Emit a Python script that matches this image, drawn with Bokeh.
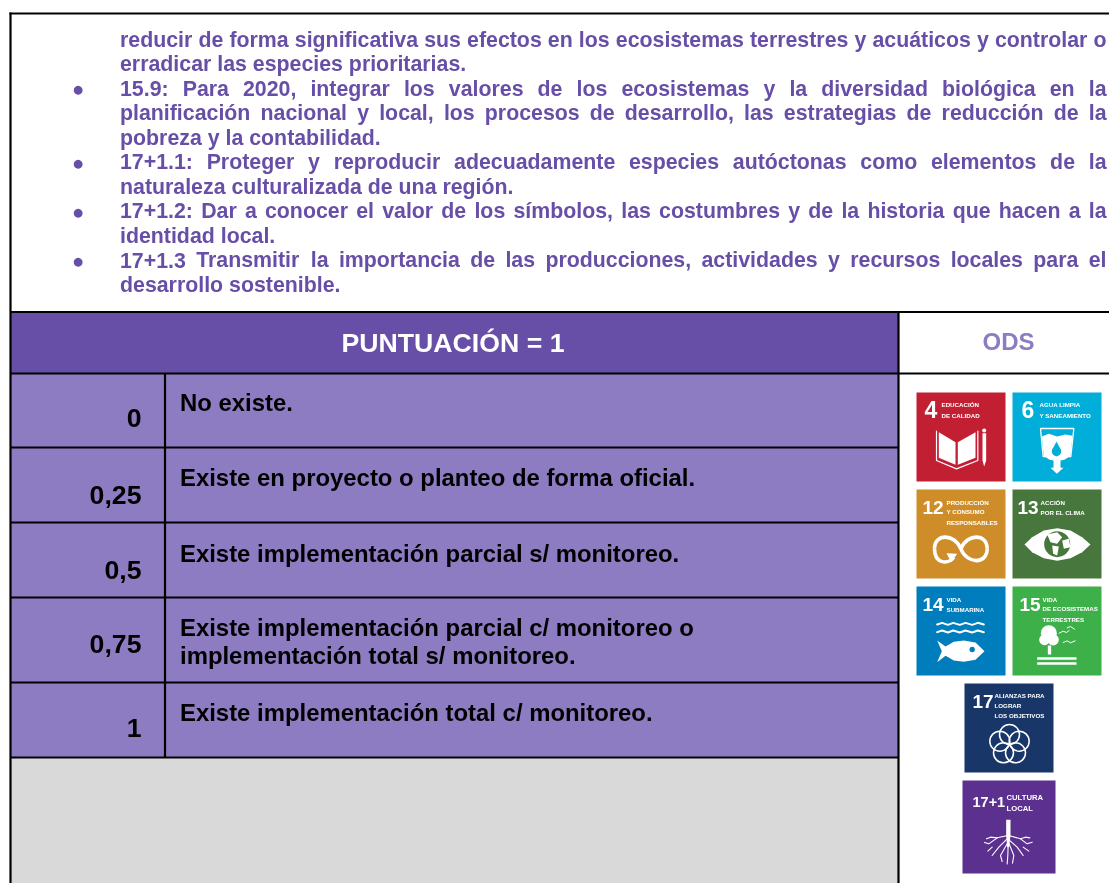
from bokeh.plotting import figure
from bokeh.embed import file_html
from bokeh.resources import INLINE
from bokeh.core.properties import value
from bokeh.models import Range1d

# ---- content ----
BODY_LINES = [
    ("reducir de forma significativa sus efectos en los ecosistemas terrestres y acuáticos y controlar o", True, False),
    ("erradicar las especies prioritarias.", False, False),
    ("15.9: Para 2020, integrar los valores de los ecosistemas y la diversidad biológica en la", True, True),
    ("planificación nacional y local, los procesos de desarrollo, las estrategias de reducción de la", True, False),
    ("pobreza y la contabilidad.", False, False),
    ("17+1.1: Proteger y reproducir adecuadamente especies autóctonas como elementos de la", True, True),
    ("naturaleza culturalizada de una región.", False, False),
    ("17+1.2: Dar a conocer el valor de los símbolos, las costumbres y de la historia que hacen a la", True, True),
    ("identidad local.", False, False),
    ("17+1.3 Transmitir la importancia de las producciones, actividades y recursos locales para el", True, True),
    ("desarrollo sostenible.", False, False),
]
HEADER = "PUNTUACIÓN = 1"
ODS_TITLE = "ODS"
SCORES = ["0", "0,25", "0,5", "0,75", "1"]
DESCRIPTIONS = [
    ["No existe."],
    ["Existe en proyecto o planteo de forma oficial."],
    ["Existe implementación parcial s/ monitoreo."],
    ["Existe implementación parcial c/ monitoreo o", "implementación total s/ monitoreo."],
    ["Existe implementación total c/ monitoreo."],
]
ODS_NUMBERS = ["4", "6", "12", "13", "14", "15", "17", "17+1"]
ODS_LABELS = [
    ["EDUCACIÓN", "DE CALIDAD"],
    ["AGUA LIMPIA", "Y SANEAMIENTO"],
    ["PRODUCCIÓN", "Y CONSUMO", "RESPONSABLES"],
    ["ACCIÓN", "POR EL CLIMA"],
    ["VIDA", "SUBMARINA"],
    ["VIDA", "DE ECOSISTEMAS", "TERRESTRES"],
    ["ALIANZAS PARA", "LOGRAR", "LOS OBJETIVOS"],
    ["CULTURA", "LOCAL"],
]

# ---- styles ----
DARK = "#674ea7"
LIGHT = "#8e7cc3"
GREY = "#d9d9d9"
FONT = value("Liberation Sans")
ODS_COLORS = ["#c31f33", "#00aed9", "#cf8d2a", "#48773e", "#007dbc", "#3eb049", "#183668", "#5b308f"]
# left, top, size of every tile
ODS_BOX = [(916, 392, 89), (1012, 392, 89), (916, 489, 89), (1012, 489, 89),
           (916, 586, 89), (1012, 586, 89), (964, 683, 89), (962, 780, 93)]
NUM_X = [8, 9, 6, 5, 6, 7, 8, 10]      # number offset inside tile
LAB_X = [25, 27, 30, 28, 30, 30, 30, 44]  # label offset inside tile
NUM_SIZE = [23, 23, 19, 19, 19, 19, 19, 14.5]
NUM_BASE = [25, 25, 25, 25, 25, 25, 25, 27]
LAB_BASE = [[14.7, 25.7], [14.7, 25.7], [15, 24.7, 35], [15, 25], [15.3, 25.7], [15.3, 24.7, 35], [14.3, 24, 34.7], [19.3, 31]]
LAB_SIZE = [6.2, 6.2, 6.2, 6.2, 6.2, 6.2, 6.2, 7.7]

WIDTHS = {" ": 278, "+": 584, ",": 278, "-": 333, ".": 278, "/": 278, ":": 333, "=": 584,
          "a": 556, "b": 611, "c": 556, "d": 611, "e": 556, "f": 333, "g": 611, "h": 611, "i": 278,
          "j": 278, "k": 556, "l": 278, "m": 889, "n": 611, "o": 611, "p": 611, "q": 611, "r": 389,
          "s": 556, "t": 333, "u": 611, "v": 556, "w": 778, "x": 556, "y": 556, "z": 500,
          "á": 556, "é": 556, "í": 278, "ó": 611, "ú": 611,
          "D": 722, "E": 667, "P": 667, "T": 611}
def tw(s, fs):
    return sum(556 if c.isdigit() else WIDTHS.get(c, 600) for c in s) * fs / 1000

W, H = 1109, 883
p = figure(width=W, height=H, x_range=Range1d(0, W), y_range=Range1d(H, 0), output_backend="svg",
           toolbar_location=None, min_border=0, outline_line_color=None, background_fill_color="white",
           border_fill_color="white")
p.axis.visible = False
p.grid.visible = False
p.styles = {"position": "fixed", "left": "0", "top": "0"}

def rect(x0, y0, x1, y1, c):
    p.quad(left=x0, right=x1, top=y0, bottom=y1, fill_color=c, line_color=None)
def txt(x, y, s, size, color, align="left", base="alphabetic", font=FONT, style="bold"):
    if base == "alphabetic":
        y = y - 0.36 * size   # renderer draws "alphabetic" text this far low
    p.text(x=[x], y=[y], text=[s], text_font=font, text_font_size=f"{size}px", text_font_style=style,
           text_color=color, text_align=align, text_baseline=base)

# ---- cell fills ----
ROW_Y = [373, 447, 522, 597, 682, 757]
rect(10, 312, 898, 373, DARK)
rect(10, 373, 898, 757, LIGHT)
rect(10, 757, 898, 883, GREY)

# ---- justified body text ----
LEFT, RIGHT, FS, PITCH, FIRST = 119.5, 1106, 21.33, 24.5, 47
for i, (line, just, bullet) in enumerate(BODY_LINES):
    y = FIRST + i * PITCH
    words = line.split(" ")
    natural = [tw(w, FS) for w in words]
    gap = (RIGHT - LEFT - sum(natural)) / (len(words) - 1) if just else tw(" ", FS)
    x = LEFT
    for w, n in zip(words, natural):
        txt(x, y, w, FS, DARK)
        x += n + gap
    if bullet:
        txt(77.5, y - 7.5, "●", 11.5, DARK, "center", "middle", value("DejaVu Sans"), "normal")

# ---- table texts ----
txt(452.5, 352, HEADER, 26.67, "white", "center")
txt(1008, 350, ODS_TITLE, 24, LIGHT, "center")
SCORE_BASE = [427, 504, 579, 653, 737]
DESC_BASE = [411, 486, 562, 636, 721]
for s, sb, lines, db in zip(SCORES, SCORE_BASE, DESCRIPTIONS, DESC_BASE):
    txt(141, sb, s, 26.67, "black", "right")
    for j, l in enumerate(lines):
        txt(179.5, db + j * 28, l, 23.9, "black")

# ---- borders ----
def seg(x0, y0, x1, y1, w=2.2):
    p.line([x0, x1], [y0, y1], line_color="black", line_width=w)
seg(9, 13, W, 13)
seg(10, 12, 10, H)
for y in [311.5] + ROW_Y:
    seg(10, y, W if y in (311.5, 373) else 898, y)
seg(164.5, 373, 164.5, 757)
seg(898, 311.5, 898, H)

# ---- SDG tiles ----
for i, (n, lab, col, (x, y, s)) in enumerate(zip(ODS_NUMBERS, ODS_LABELS, ODS_COLORS, ODS_BOX)):
    rect(x, y, x + s, y + s, col)
    txt(x + NUM_X[i], y + NUM_BASE[i], n, NUM_SIZE[i], "white")
    for l, b in zip(lab, LAB_BASE[i]):
        txt(x + LAB_X[i], y + b, l, LAB_SIZE[i], "white")

# pictograms: coordinates are page pixels derived from a 3x grid
def A(zx, zy, ox=900, oy=380):
    return ox + zx / 3, oy + zy / 3
def poly(points, c="white", ox=900, oy=380):
    pts = [A(a, b, ox, oy) for a, b in points]
    p.patch([q[0] for q in pts], [q[1] for q in pts], fill_color=c, line_color=None)
def path(points, w=1.5, c="white", ox=900, oy=380):
    pts = [A(a, b, ox, oy) for a, b in points]
    p.line([q[0] for q in pts], [q[1] for q in pts], line_color=c, line_width=w, line_cap="round", line_join="round")
def curve(a, b, c, d, w=3.6, col="white", ox=900, oy=380):
    (x0, y0), (cx0, cy0), (cx1, cy1), (x1, y1) = [A(q[0], q[1], ox, oy) for q in (a, b, c, d)]
    p.bezier(x0=[x0], y0=[y0], x1=[x1], y1=[y1], cx0=[cx0], cy0=[cy0], cx1=[cx1], cy1=[cy1], line_color=col, line_width=w)
def dot(zx, zy, r, c="white", ox=900, oy=380, lw=None):
    x, y = A(zx, zy, ox, oy)
    if lw:
        p.circle(x=[x], y=[y], radius=r / 3, fill_color=None, line_color=c, line_width=lw)
    else:
        p.circle(x=[x], y=[y], radius=r / 3, fill_color=c, line_color=None)

# 4 book & pencil
poly([(115, 155), (165, 185), (165, 253), (115, 232)])
poly([(172, 185), (225, 155), (225, 232), (172, 253)])
path([(108, 152), (108, 240), (168, 265), (232, 240), (232, 152)], 1.2)
poly([(246, 158), (257, 158), (257, 240), (251, 258), (246, 240)])
dot(251, 150, 6)
# 6 glass
path([(420, 144), (520, 144), (511, 228), (428, 228), (420, 144)], 1.3)
poly([(424, 168), (445, 160), (470, 168), (495, 162), (516, 166), (510, 226), (492, 238), (480, 240), (480, 262),
      (489, 262), (469, 280), (450, 262), (459, 262), (459, 240), (447, 238), (430, 226)])
poly([(468, 183), (482, 210), (468, 228), (454, 210)], "#00aed9")
dot(468, 213, 14, "#00aed9")
# 12 infinity
curve((181, 505), (200, 458), (260, 458), (260, 505))
curve((260, 505), (260, 552), (200, 552), (181, 505))
curve((181, 505), (162, 458), (102, 458), (102, 505))
curve((102, 505), (102, 552), (145, 552), (160, 530))
poly([(138, 518), (170, 520), (152, 545)])
# 13 eye & globe
poly([(372, 492), (395, 470), (430, 450), (470, 443), (510, 450), (545, 470), (570, 492), (545, 515), (510, 533),
      (470, 541), (430, 533), (395, 515)])
dot(470, 491, 39, "#48773e")
poly([(440, 462), (470, 455), (485, 470), (470, 490), (450, 485)])
poly([(455, 495), (475, 498), (470, 525), (458, 520)])
poly([(485, 480), (505, 475), (510, 500), (490, 505)])
# 14 waves & fish
O2 = dict(ox=900, oy=580)
path([(110, 132), (125, 127), (142, 133), (158, 127), (178, 133), (195, 127), (215, 133), (232, 127), (250, 132)], 2, **O2)
path([(110, 155), (125, 150), (142, 156), (158, 150), (178, 156), (195, 150), (215, 156), (232, 150), (250, 155)], 2, **O2)
poly([(110, 180), (135, 198), (160, 184), (190, 180), (225, 186), (252, 212), (225, 238), (190, 244), (160, 240),
      (135, 226), (110, 245), (124, 212)], **O2)
dot(215, 207, 8, "#007dbc", **O2)
# 15 tree & birds
dot(445, 158, 24, **O2)
dot(432, 178, 16, **O2)
dot(458, 178, 17, **O2)
poly([(442, 195), (452, 195), (452, 222), (442, 222)], **O2)
poly([(410, 230), (528, 230), (528, 238), (410, 238)], **O2)
poly([(410, 245), (528, 245), (528, 253), (410, 253)], **O2)
path([(476, 158), (488, 152), (498, 156), (506, 150)], 1, **O2)
path([(500, 142), (510, 138), (522, 146)], 1, **O2)
path([(488, 186), (500, 181), (510, 187), (524, 181)], 1, **O2)
# 17 rings
RING_CENTRES = [(327, 462), (356, 482), (345, 517), (309, 517), (298, 482)]
for cx, cy in RING_CENTRES:
    dot(cx, cy, 30, lw=1.5, **O2)
# 17+1 roots
poly([(317, 718), (330, 718), (330, 765), (326, 800), (320, 800), (317, 765)], **O2)
for b in [[(322, 765), (290, 772), (265, 790), (252, 786)], [(325, 765), (360, 775), (380, 790), (395, 785)],
          [(320, 775), (295, 800), (275, 825)], [(322, 775), (350, 800), (368, 825)],
          [(323, 790), (322, 825), (320, 850)], [(320, 790), (300, 825), (305, 843)],
          [(326, 790), (340, 825), (336, 848)], [(290, 772), (270, 770), (258, 775)],
          [(360, 775), (375, 770), (388, 772)], [(275, 800), (262, 812)], [(368, 800), (385, 812)]]:
    path(b, 1.1, **O2)

open("out.html", "w").write(file_html(p, INLINE))
